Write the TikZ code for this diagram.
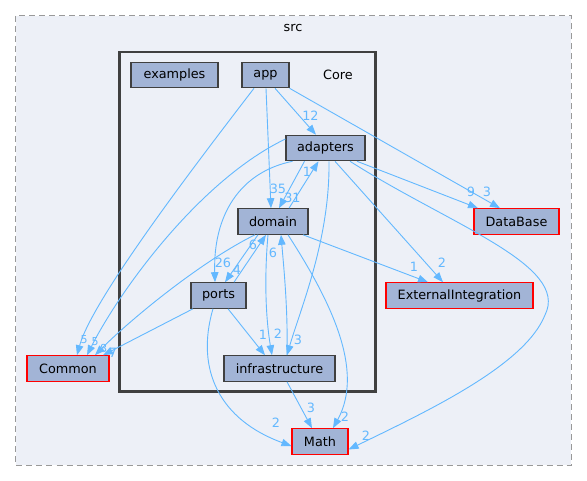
\documentclass[tikz,border=0pt]{standalone}
\usepackage{fontspec}
\setmainfont{DejaVu Sans}
\usetikzlibrary{arrows.meta}
\definecolor{nodefill}{HTML}{A2B4D6}
\definecolor{nodeline}{HTML}{404040}
\definecolor{clusterfill}{HTML}{EDF0F7}
\definecolor{edgecol}{HTML}{63B8FF}
\definecolor{dashcol}{HTML}{999999}
\begin{document}
\begin{tikzpicture}[x=1pt,y=-1pt,
  every node/.style={font=\fontsize{12.8}{15}\selectfont, inner sep=0pt},
  dirbox/.style={draw=nodeline, fill=nodefill, line width=1.1pt, minimum height=25.5pt},
  extbox/.style={draw=red, fill=nodefill, line width=1.1pt, minimum height=25.5pt},
  dep/.style={draw=edgecol, line width=0.9pt, -{Triangle[length=10pt,width=7.5pt]}},
  lbl/.style={text=edgecol},
  smalllbl/.style={text=edgecol, font=\fontsize{11}{13}\selectfont}
]
\useasboundingbox (0,0) rectangle (587,481);
% clusters
\draw[dashcol, fill=clusterfill, line width=1pt, dash pattern=on 6pt off 4pt] (15.5,16) rectangle (571,465);
\node (srclbl) at (293,28) {src};
\draw[nodeline, fill=clusterfill, line width=2.2pt] (119.5,52) rectangle (375.5,391.5);
\node (corelbl) at (338,74.5) {Core};
% nodes
\node[dirbox, minimum width=87pt] (examples) at (174.5,75) {examples};
\node[dirbox, minimum width=47pt] (app) at (265.5,75) {app};
\node[dirbox, minimum width=79pt] (adapters) at (325.5,148) {adapters};
\node[dirbox, minimum width=70pt] (domain) at (273,221.5) {domain};
\node[dirbox, minimum width=55pt] (ports) at (218.5,295.5) {ports};
\node[dirbox, minimum width=111pt] (infra) at (279.5,368.5) {infrastructure};
\node[extbox, minimum width=85pt] (database) at (516.5,221.5) {DataBase};
\node[extbox, minimum width=147pt] (extint) at (459.5,295.5) {ExternalIntegration};
\node[extbox, minimum width=82pt] (common) at (68,368.5) {Common};
\node[extbox, minimum width=56pt] (math) at (320,441.5) {Math};
% edges
\draw[dep] ([xshift=9.5]app.south) -- ([xshift=-9.5]adapters.north);
\draw[dep] ([xshift=0.5]app.south) -- ([xshift=-2]domain.north);
\draw[dep] ([xshift=-11.5]app.south) .. controls (195,165) and (92,300) .. ([xshift=9]common.north);
\draw[dep] (app.south east) -- ([xshift=-16.5]database.north);
\draw[dep] ([xshift=-21]adapters.south) -- ([xshift=6]domain.north);
\draw[dep] ([xshift=16]domain.north) -- ([xshift=-7]adapters.south);
\draw[dep] ([xshift=-33]adapters.south) .. controls (240,172) and (213,215) .. ([xshift=-3.5]ports.north);
\draw[dep] ([xshift=-15]domain.south) -- ([xshift=6.5]ports.north);
\draw[dep] ([xshift=15.5]ports.north) -- ([xshift=-7]domain.south);
\draw[dep] ([xshift=-5]domain.south) .. controls (264,280) and (266,320) .. ([xshift=-7.5]infra.north);
\draw[dep] ([xshift=7.5]infra.north) .. controls (288,310) and (284,270) .. ([xshift=8]domain.south);
\draw[dep] ([xshift=3.5]adapters.south) .. controls (330,240) and (300,310) .. ([xshift=7.5]infra.north);
\draw[dep] ([xshift=9.5]ports.south) -- ([xshift=-14.5]infra.north);
\draw[dep] ([xshift=-25.5]ports.south) -- ([xshift=35]common.north);
\draw[dep] ([xshift=-18]domain.south) .. controls (200,262) and (130,320) .. ([xshift=27]common.north);
\draw[dep] ([yshift=9]adapters.west) .. controls (200,180) and (120,290) .. ([xshift=19]common.north);
\draw[dep] ([xshift=9.5]adapters.south) -- ([xshift=-16.5]extint.north);
\draw[dep] ([xshift=30]domain.south) -- ([xshift=-31.5]extint.north);
\draw[dep] ([xshift=31.5]adapters.south) -- ([xshift=-38.5]database.north);
\draw[dep] ([xshift=24.5]adapters.south) .. controls (450,225) and (570,265) .. (545,315) .. controls (525,365) and (430,410) .. ([yshift=-8]math.east);
\draw[dep] ([xshift=15]domain.south) .. controls (330,300) and (365,370) .. ([xshift=13]math.north);
\draw[dep] ([xshift=7.5]infra.south) -- ([xshift=-8]math.north);
\draw[dep] ([xshift=-5.5]ports.south) .. controls (195,370) and (220,420) .. ([yshift=-4.5]math.west);
% edge labels
\node[lbl] (l1) at (310.5,116) {12};
\node[lbl] (l2) at (278,189) {35};
\node[lbl] (l3) at (292.5,198) {31};
\node[lbl] (l4) at (307,172) {1};
\node[lbl] (l5) at (223,263) {26};
\node[lbl] (l6) at (237,270) {4};
\node[lbl] (l7) at (253,245) {6};
\node[lbl] (l8) at (273,253) {6};
\node[lbl] (l9) at (263,335) {1};
\node[lbl] (l10) at (278,334) {2};
\node[lbl] (l11) at (298,340) {3};
\node[smalllbl] (l12) at (84,340) {5};
\node[smalllbl] (l13) at (95,342) {5};
\node[smalllbl] (l14) at (103.5,348) {8};
\node[lbl] (l15) at (113,353) {7};
\node[lbl] (l16) at (471,192) {9};
\node[lbl] (l17) at (487,192) {3};
\node[lbl] (l18) at (414,267) {1};
\node[lbl] (l19) at (442,263) {2};
\node[lbl] (l20) at (345,417) {2};
\node[lbl] (l21) at (366,436) {2};
\node[lbl] (l22) at (311,408) {3};
\node[lbl] (l23) at (276,423) {2};
\end{tikzpicture}
\end{document}
